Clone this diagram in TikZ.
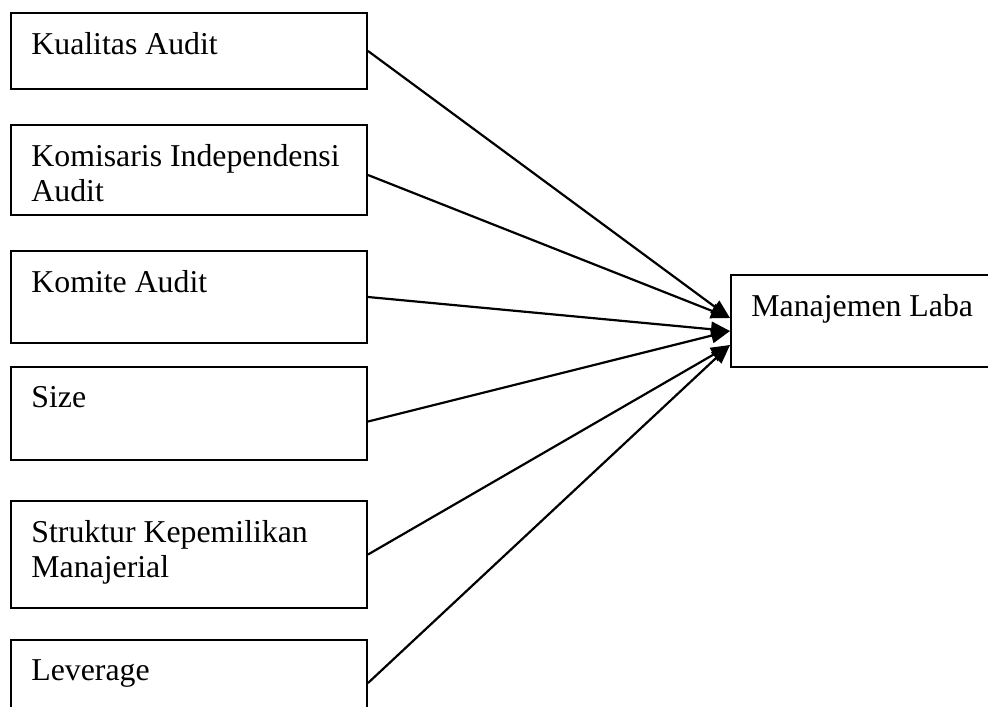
\documentclass[tikz,border=0pt]{standalone}
\usepackage{fontspec}
\setmainfont{Liberation Serif}
\usetikzlibrary{arrows.meta,positioning}

\tikzset{
  varbox/.style={draw, line width=1pt, anchor=north west, inner sep=0pt, minimum width=178pt},
  vartext/.style={anchor=north west, align=left, inner sep=0pt, xshift=10.5pt, yshift=-10pt,
    font=\fontsize{15.9}{17.5}\selectfont},
  link/.style={line width=1.1pt, -{Triangle[length=9.5pt,width=7.5pt]}}
}

\begin{document}
\begin{tikzpicture}[x=0.5pt, y=-0.5pt]
    \useasboundingbox (0,0) rectangle (988,706);
    \clip (0,0) rectangle (988,706);

    % variabel independen
    \node[varbox, minimum height=38pt] (kualitas) at (10,12) {};
    \node[vartext] (kualitas-t) at (kualitas.north west) {Kualitas Audit};

    \node[varbox, minimum height=45pt] (komisaris) at (10,124) {};
    \node[vartext] (komisaris-t) at (komisaris.north west) {Komisaris Independensi\\Audit};

    \node[varbox, minimum height=46pt] (komite) at (10,250) {};
    \node[vartext] (komite-t) at (komite.north west) {Komite Audit};

    \node[varbox, minimum height=46.5pt] (size) at (10,366) {};
    \node[vartext] (size-t) at (size.north west) {Size};

    \node[varbox, minimum height=53.5pt] (struktur) at (10,500) {};
    \node[vartext] (struktur-t) at (struktur.north west) {Struktur Kepemilikan\\Manajerial};

    \node[varbox, minimum height=43pt] (leverage) at (10,639) {};
    \node[vartext] (leverage-t) at (leverage.north west) {Leverage};

    % variabel dependen
    \node[varbox, minimum width=150pt, minimum height=46pt] (laba) at (730,274) {};
    \node[vartext] (laba-t) at (laba.north west) {Manajemen Laba};

    % panah
    \draw[link] (kualitas.east) -- ([yshift=1.5pt]laba.west);
    \draw[link] ([yshift=-2.5pt]komisaris.east) -- ([yshift=1.5pt]laba.west);
    \draw[link] (komite.east) -- ([yshift=-5pt]laba.west);
    \draw[link] ([yshift=-4pt]size.east) -- ([yshift=-5pt]laba.west);
    \draw[link] (struktur.east) -- ([yshift=-12pt]laba.west);
    \draw[link] (leverage.east) -- ([yshift=-12pt]laba.west);
\end{tikzpicture}
\end{document}
